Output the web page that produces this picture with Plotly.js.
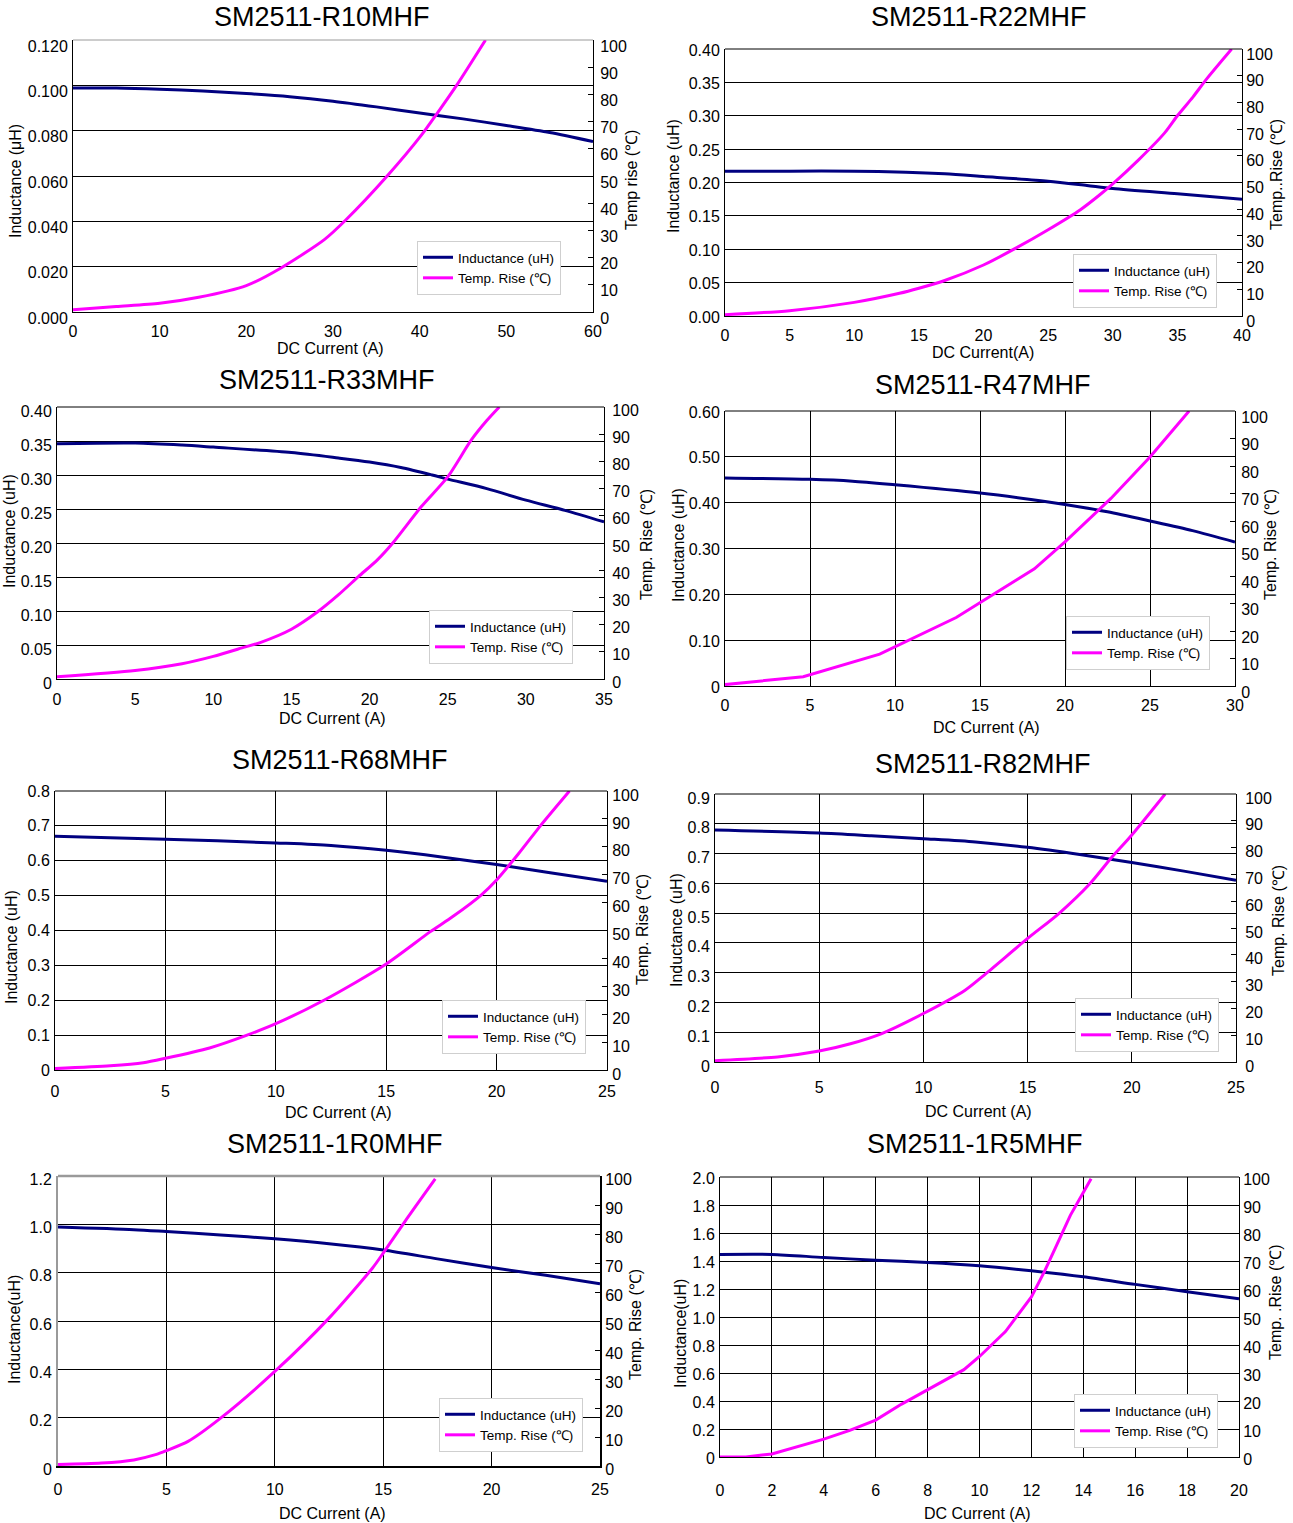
<!DOCTYPE html>
<html><head><meta charset="utf-8">
<script src="https://cdn.plot.ly/plotly-3.0.1.min.js"></script>
<style>body{margin:0;background:#fff}#chart{width:1293px;height:1523px}</style>
</head><body><div id="chart"></div>
<script>
// ---------------- DATA ----------------
// SM2511-R10MHF
const r10_L_x = [0,5,10,15,20,25,30,35,40,45,50,55,60];
const r10_L   = [0.0988,0.0988,0.0983,0.0975,0.0964,0.0950,0.0930,0.0905,0.0878,0.0852,0.0823,0.0792,0.0752];
const r10_T_x = [0,5,10,14.5,20,24,29,31.5,36.2,40.2,41.9,44.3,47.6];
const r10_T   = [0.8,2,3.2,5.4,9.7,16.2,26.6,33.9,49.8,65,72.5,83.5,100];
// SM2511-R22MHF
const r22_L_x = [0,5,10,14,17,20,25,28,30,35,40];
const r22_L   = [0.217,0.217,0.217,0.2155,0.213,0.209,0.202,0.1955,0.191,0.183,0.175];
const r22_T_x = [0,5,10,13.5,15,17,20,22.5,25,27.5,29,30,32,34,35,36.2,37.3,39.2];
const r22_T   = [0.5,2,5.1,8.5,10.4,13.3,19.1,25.4,32.3,39.8,45.4,49.5,58.5,68.5,75,82,89,100];
// SM2511-R33MHF
const r33_L_x = [0,5,8,10,15,18,20,22,24,25,27.5,30,32.5,35];
const r33_L   = [0.346,0.347,0.344,0.341,0.333,0.325,0.319,0.311,0.300,0.294,0.280,0.263,0.248,0.231];
const r33_T_x = [0,5,8,10,12,13,15,16.7,18,19.3,20.5,21.5,23.3,25,26.5,27.5,28.3];
const r33_T   = [0.8,3.1,5.6,8.3,11.7,13.4,18.3,24.8,30.9,37.7,43.8,50.1,63.3,74.3,87.8,95,100];
// SM2511-R47MHF
const r47_L_x = [0,5,7.5,10,15,18,20,22.5,25,27.5,30];
const r47_L   = [0.454,0.451,0.447,0.439,0.421,0.407,0.396,0.380,0.360,0.339,0.314];
const r47_T_x = [0,4.6,9.1,13.6,18.2,20,22.7,25,27.3];
const r47_T   = [0.5,3.4,11.6,24.9,42.6,52.4,68.2,83.3,100];
// SM2511-R68MHF
const r68_L_x = [0,5,10,12.5,15,17.5,20,22.5,25];
const r68_L   = [0.670,0.662,0.651,0.644,0.630,0.611,0.589,0.565,0.541];
const r68_T_x = [0,2.5,4,5,7,8.7,10,12.2,15,17,18,19.3,20,21,22,23.3];
const r68_T   = [0.5,1.5,2.6,4.2,7.9,12.5,16.6,25.1,38.0,49.6,54.9,62.7,68.1,77.6,87.7,100];
// SM2511-R82MHF
const r82_L_x = [0,5,7.5,10,12.5,15,17.5,20,22.5,25];
const r82_L   = [0.779,0.769,0.760,0.750,0.739,0.721,0.697,0.670,0.641,0.610];
const r82_T_x = [0,3,5,6.5,8,10,12,13,15,16.5,18,19,20,21.6];
const r82_T   = [0.5,1.9,4.1,6.8,10.6,18.1,26.8,33,46.1,55.4,66.6,76,84.7,100];
// SM2511-1R0MHF
const r1r0_L_x = [0,3.5,5,7.5,10,12.5,15,17.5,20,22.5,25];
const r1r0_L   = [0.989,0.978,0.970,0.956,0.940,0.920,0.894,0.857,0.821,0.789,0.754];
const r1r0_T_x = [0,2,3.5,4.5,5,6,7.5,10,12.5,14.5,15,16,17.4];
const r1r0_T   = [0.5,1,2.1,3.9,5.3,8.5,16.5,32.6,51,68.2,73.4,84.3,99];
// SM2511-1R5MHF
const r1r5_L_x = [0,2,4,6,8,10,12,14,16,18,20];
const r1r5_L   = [1.447,1.447,1.425,1.406,1.390,1.366,1.330,1.287,1.233,1.181,1.131];
const r1r5_T_x = [0,1,2,3,4,5,6,7,8,9.4,10,11,12,12.5,13,13.5,14.3];
const r1r5_T   = [0,0,1.1,3.8,6.4,9.5,13.2,18.9,24,31.2,35.9,44.8,57.2,66.2,76.2,86.3,99.4];

// tick labels
const titles = ['SM2511-R10MHF','SM2511-R22MHF','SM2511-R33MHF','SM2511-R47MHF','SM2511-R68MHF','SM2511-R82MHF','SM2511-1R0MHF','SM2511-1R5MHF'];
const leftTickVals = [
  [0,0.02,0.04,0.06,0.08,0.10,0.12],
  [0,0.05,0.10,0.15,0.20,0.25,0.30,0.35,0.40],
  [0,0.05,0.10,0.15,0.20,0.25,0.30,0.35,0.40],
  [0,0.1,0.2,0.3,0.4,0.5,0.6],
  [0,0.1,0.2,0.3,0.4,0.5,0.6,0.7,0.8],
  [0,0.1,0.2,0.3,0.4,0.5,0.6,0.7,0.8,0.9],
  [0,0.2,0.4,0.6,0.8,1.0,1.2],
  [0,0.2,0.4,0.6,0.8,1.0,1.2,1.4,1.6,1.8,2.0]
];
const leftTickText = [
  ['0.000','0.020','0.040','0.060','0.080','0.100','0.120'],
  ['0.00','0.05','0.10','0.15','0.20','0.25','0.30','0.35','0.40'],
  ['0','0.05','0.10','0.15','0.20','0.25','0.30','0.35','0.40'],
  ['0','0.10','0.20','0.30','0.40','0.50','0.60'],
  ['0','0.1','0.2','0.3','0.4','0.5','0.6','0.7','0.8'],
  ['0','0.1','0.2','0.3','0.4','0.5','0.6','0.7','0.8','0.9'],
  ['0','0.2','0.4','0.6','0.8','1.0','1.2'],
  ['0','0.2','0.4','0.6','0.8','1.0','1.2','1.4','1.6','1.8','2.0']
];
const xMax = [60,40,35,30,25,25,25,20];
const xStep = [10,5,5,5,5,5,5,2];
const rightTicks = [0,10,20,30,40,50,60,70,80,90,100];
const leftTitles = ['Inductance (μH)','Inductance (uH)','Inductance (uH)','Inductance (uH)','Inductance (uH)','Inductance (uH)','Inductance(uH)','Inductance(uH)'];
const rightTitles = ['Temp rise (℃)','Temp..Rise (℃)','Temp. Rise (℃)','Temp. Rise (℃)','Temp. Rise (℃)','Temp. Rise (℃)','Temp. Rise (℃)','Temp. .Rise (℃)'];
const xTitles = ['DC Current (A)','DC Current(A)','DC Current (A)','DC Current (A)','DC Current (A)','DC Current (A)','DC Current (A)','DC Current (A)'];
const seriesNames = ['Inductance (uH)','Temp. Rise (℃)'];

const dataSets = [
  [r10_L_x,r10_L,r10_T_x,r10_T],
  [r22_L_x,r22_L,r22_T_x,r22_T],
  [r33_L_x,r33_L,r33_T_x,r33_T],
  [r47_L_x,r47_L,r47_T_x,r47_T],
  [r68_L_x,r68_L,r68_T_x,r68_T],
  [r82_L_x,r82_L,r82_T_x,r82_T],
  [r1r0_L_x,r1r0_L,r1r0_T_x,r1r0_T],
  [r1r5_L_x,r1r5_L,r1r5_T_x,r1r5_T]
];

// ---------------- LAYOUT / STYLE ----------------
const W = 1293, H = 1523;
// plot boxes in px: [left, top, right, bottom]
const boxes = [
  [73,40,593,312],[725,49,1242,316],
  [57,407,604,679],[725,411,1235,686],
  [55,791,607,1070],[715,794,1236,1062],
  [58,1176,600,1466],[720,1177,1239,1457]
];
const legendPos = [[417,241],[1073,254],[429,610],[1066,616],[442,1000],[1075,998],[439,1398],[1074,1394]];
const titlePos = [[322,17],[979,17],[327,380],[983,385],[340,760],[983,764],[335,1144],[975,1144]];
const leftTitlePos = [[15,181],[673,176],[9,531],[678,545],[12,947],[676,930],[14,1330],[680,1334]];
const rightTitlePos = [[631,180],[1277,175],[646,545],[1270,545],[642,930],[1278,921],[635,1325],[1275,1302]];
const xTitlePos = [[330,349],[983,352],[332,719],[986,727],[338,1112],[978,1111],[332,1513],[977,1513]];
const vGrid = [false,false,false,true,true,true,true,true];
const smoothT = [true,true,true,false,true,true,true,false];
const topBorder = [['#9a9a9a',1],['black',1],['black',1],['black',1],['black',1],['black',1],['#9a9a9a',2.5],['black',1]];
const leftLine = [['black',1],['black',1],['black',1],['black',1],['black',1],['black',1],['#9a9a9a',2],['black',1]];
const xLabelStandoff = [5,5,6,5,7,11,8,19];
const leftShift = [6,1,4,1,0,4,3,1];
const rightShift = [6,5,3,6,4,4,3,2];
const rightStandoff = [3,0,4,2,1,5,0,0];

const id = n => (n === 1 ? '' : String(n));
const FONT = 'Liberation Sans, Arial, sans-serif';
const TICK = 16;

const traces = [];
const layout = {
  width: W, height: H,
  margin: {l:0,r:0,t:0,b:0},
  paper_bgcolor: 'white', plot_bgcolor: 'rgba(0,0,0,0)',
  font: {family: FONT, color: 'black', size: 15},
  annotations: [], shapes: [],
  showlegend: true
};

for (let i = 0; i < 8; i++) {
  const xi = i + 1, yl = 2*i + 1, yr = 2*i + 2;
  const [L0, T0, R0, B0] = boxes[i];
  const xd = [L0/W, R0/W], yd = [1 - B0/H, 1 - T0/H];
  const [Lx, Ly, Tx, Ty] = dataSets[i];
  const legName = 'legend' + id(i+1);

  traces.push({
    x: Lx, y: Ly, xaxis: 'x'+id(xi), yaxis: 'y'+id(yl), type: 'scatter', mode: 'lines',
    name: seriesNames[0], legend: legName, cliponaxis: false,
    line: {color: '#000080', width: 3, shape: 'spline', smoothing: 0.8}
  });
  traces.push({
    x: Tx, y: Ty, xaxis: 'x'+id(xi), yaxis: 'y'+id(yr), type: 'scatter', mode: 'lines',
    name: seriesNames[1], legend: legName, cliponaxis: false,
    line: {color: '#ff00ff', width: 3, shape: smoothT[i] ? 'spline' : 'linear', smoothing: 0.7}
  });

  const xTicks = [];
  for (let v = 0; v <= xMax[i] + 1e-9; v += xStep[i]) xTicks.push(v);

  layout['xaxis'+id(xi)] = {
    domain: xd, anchor: 'y'+id(yl), range: [0, xMax[i]],
    tickmode: 'array', tickvals: xTicks, ticktext: xTicks.map(String),
    showline: true, linecolor: 'black', linewidth: i === 6 ? 2 : 1,
    showgrid: vGrid[i], gridcolor: 'black', gridwidth: 1,
    zeroline: false, ticks: '', ticklabelstandoff: xLabelStandoff[i],
    tickfont: {size: TICK, color: 'black'}, fixedrange: true
  };
  layout['yaxis'+id(yl)] = {
    domain: yd, anchor: 'x'+id(xi), range: [0, leftTickVals[i][leftTickVals[i].length-1]],
    tickmode: 'array', tickvals: leftTickVals[i], ticktext: leftTickText[i],
    showline: true, linecolor: leftLine[i][0], linewidth: leftLine[i][1],
    showgrid: true, gridcolor: 'black', gridwidth: 1,
    zeroline: false, ticks: '', ticklabelstandoff: 1, ticklabelshift: leftShift[i],
    tickfont: {size: TICK, color: 'black'}, fixedrange: true
  };
  layout['yaxis'+id(yr)] = {
    overlaying: 'y'+id(yl), side: 'right', anchor: 'x'+id(xi), range: [0, 100],
    tickmode: 'array', tickvals: rightTicks, ticktext: rightTicks.map(String),
    showline: true, linecolor: 'black', linewidth: i === 6 ? 2 : 1,
    showgrid: false, zeroline: false,
    ticks: 'inside', ticklen: 5, tickcolor: 'black', tickwidth: 1,
    ticklabelshift: rightShift[i], ticklabelstandoff: rightStandoff[i],
    tickfont: {size: TICK, color: 'black'}, fixedrange: true
  };
  layout[legName] = {
    x: legendPos[i][0]/W, y: 1 - legendPos[i][1]/H, xanchor: 'left', yanchor: 'top',
    xref: 'paper', yref: 'paper',
    bgcolor: 'white', bordercolor: '#cfcfcf', borderwidth: 1,
    font: {size: 13.5, color: 'black', family: FONT}, tracegroupgap: 0, itemwidth: 30
  };
  layout.shapes.push({
    type: 'line', xref: 'x'+id(xi)+' domain', yref: 'y'+id(yl)+' domain',
    x0: 0, x1: 1, y0: 1, y1: 1, line: {color: topBorder[i][0], width: topBorder[i][1]}
  });

  const ann = (txt, p, size, angle) => ({
    text: txt, xref: 'paper', yref: 'paper', x: p[0]/W, y: 1 - p[1]/H,
    xanchor: 'center', yanchor: 'middle', showarrow: false, textangle: angle || 0,
    font: {size: size, color: 'black', family: FONT}
  });
  layout.annotations.push(ann(titles[i], titlePos[i], 27, 0));
  layout.annotations.push(ann(leftTitles[i], leftTitlePos[i], 16, -90));
  layout.annotations.push(ann(rightTitles[i], rightTitlePos[i], 16, -90));
  layout.annotations.push(ann(xTitles[i], xTitlePos[i], 16, 0));
}

Plotly.newPlot('chart', traces, layout, {staticPlot: true, displayModeBar: false});
</script></body></html>
